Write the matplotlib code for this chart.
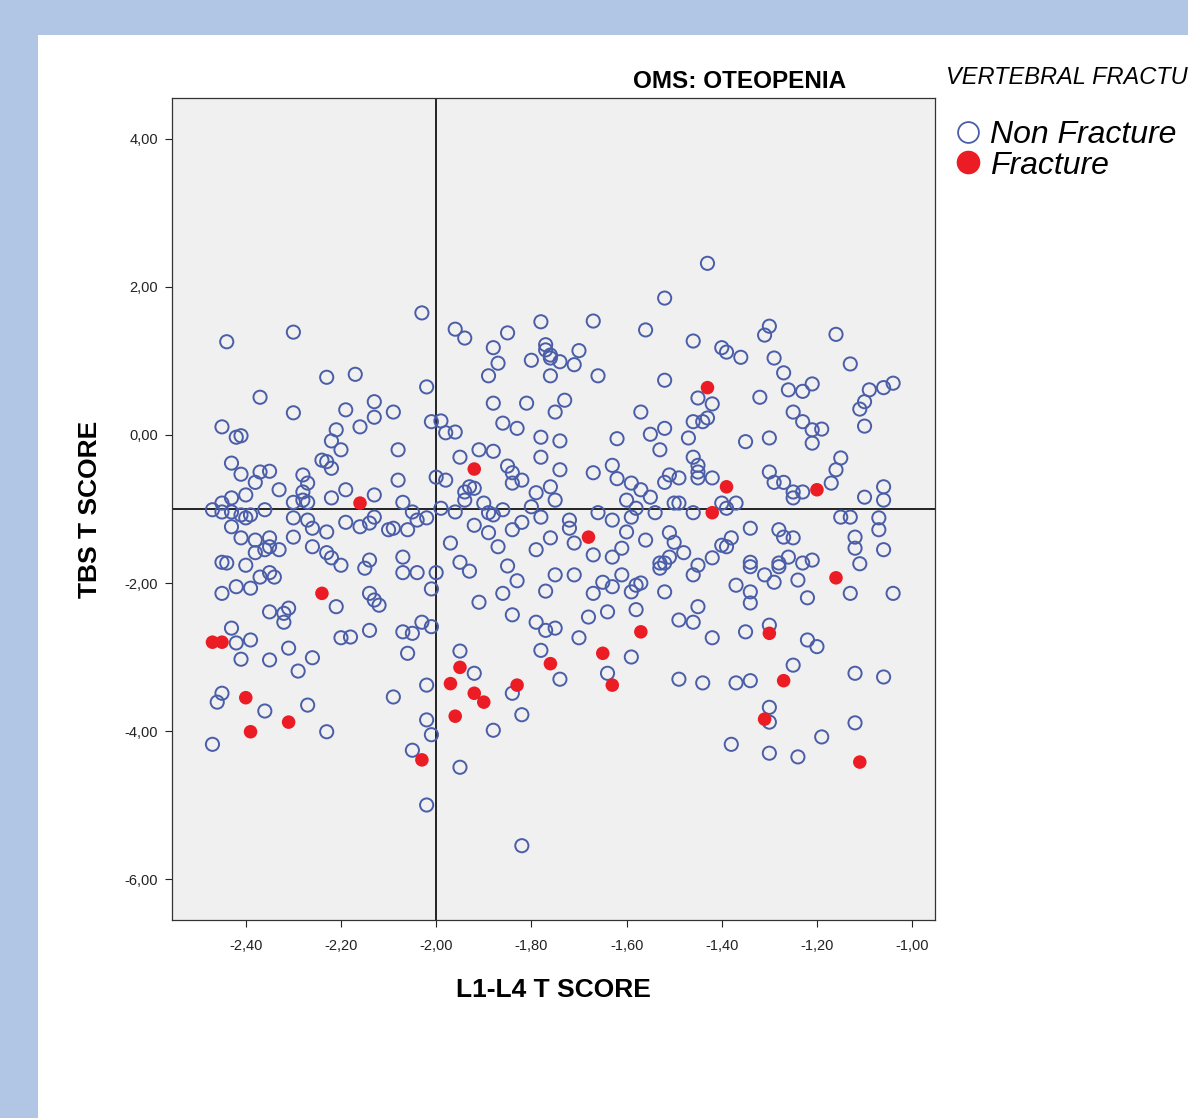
import matplotlib
matplotlib.use('Agg')
import matplotlib.pyplot as plt
from matplotlib.lines import Line2D
from matplotlib.patches import Rectangle

# L1-L4 T score (x) and TBS T score (y), patients without vertebral fracture
non_frac_x = [
    -2.44, -2.30, -2.23, -2.17, -2.37, -2.30, -2.19, -2.13, -2.13, -2.16, -2.21, -2.22, -2.20, -2.45, -2.42, -2.41,
    -2.03, -1.96, -1.94, -1.85, -1.78, -1.77, -1.77, -1.76, -1.76, -1.88, -1.87, -1.89, -1.80, -1.76, -2.02, -1.88,
    -1.81, -1.75, -2.09, -2.01, -1.99, -1.98, -1.96, -1.86, -1.83, -1.78, -1.74, -2.08, -1.91, -1.88,
    -1.43, -1.52, -1.67, -1.56, -1.46, -1.40, -1.39, -1.36, -1.70, -1.74, -1.71, -1.66, -1.52, -1.45, -1.42, -1.46,
    -1.44, -1.43, -1.57, -1.73, -1.52, -1.55, -1.62, -1.47, -1.53,
    -1.30, -1.31, -1.16, -1.29, -1.13, -1.27, -1.32, -1.26, -1.23, -1.21, -1.09, -1.10, -1.11, -1.06, -1.04, -1.10,
    -1.25, -1.23, -1.21, -1.19, -1.21, -1.30, -1.35,
    -2.43, -2.41, -2.38, -2.37, -2.35, -2.28, -2.27, -2.24, -2.23, -2.22, -2.33, -2.28, -2.40, -2.43, -2.45, -2.47,
    -2.45, -2.43, -2.41, -2.40, -2.39, -2.36, -2.30, -2.28, -2.27, -2.30, -2.27, -2.26, -2.23, -2.22, -2.19, -2.13,
    -2.13, -2.19, -2.16, -2.14, -2.43, -2.41, -2.38, -2.35, -2.35, -2.33, -2.36, -2.38, -2.30, -2.26, -2.23, -2.22,
    -2.20, -2.45, -2.44, -2.40, -2.37, -2.35, -2.34, -2.14, -2.15, -2.45, -2.42, -2.39, -2.21, -2.14, -2.13, -2.35,
    -2.32, -2.31, -2.32, -2.43, -2.42, -2.39, -2.31, -2.20, -2.18, -2.14,
    -1.95, -1.85, -1.84, -1.82, -1.84, -1.78, -1.74, -1.76, -2.08, -2.00, -1.98, -1.93, -1.92, -1.94, -1.94, -2.07,
    -2.05, -2.04, -2.02, -2.06, -2.10, -2.09, -1.99, -1.96, -1.90, -1.89, -1.88, -1.86, -1.80, -1.79, -1.75, -1.78,
    -1.92, -1.89, -1.84, -1.82, -1.76, -1.87, -1.97, -1.79, -2.07, -2.07, -2.04, -2.00, -1.95, -1.93, -1.85, -1.83,
    -1.75, -2.01, -1.91, -1.86, -1.77, -2.12, -1.84, -1.79, -1.77, -1.75, -2.03, -2.01, -2.05, -2.07, -1.95, -1.78,
    -1.46, -1.45, -1.45, -1.45, -1.42, -1.63, -1.67, -1.62, -1.59, -1.57, -1.55, -1.52, -1.51, -1.49, -1.60, -1.58,
    -1.59, -1.50, -1.49, -1.54, -1.63, -1.66, -1.46, -1.40, -1.39, -1.37, -1.72, -1.72, -1.71, -1.67, -1.63, -1.60,
    -1.61, -1.56, -1.51, -1.50, -1.48, -1.51, -1.53, -1.53, -1.52, -1.45, -1.46, -1.42, -1.40, -1.39, -1.38, -1.71,
    -1.65, -1.61, -1.67, -1.63, -1.59, -1.58, -1.57, -1.52, -1.37, -1.68, -1.64, -1.58, -1.49, -1.46, -1.45, -1.70,
    -1.42,
    -1.15, -1.16, -1.17, -1.30, -1.29, -1.27, -1.25, -1.25, -1.23, -1.10, -1.06, -1.06, -1.15, -1.13, -1.07, -1.07,
    -1.34, -1.28, -1.27, -1.25, -1.12, -1.12, -1.06, -1.11, -1.34, -1.34, -1.31, -1.28, -1.28, -1.29, -1.26, -1.23,
    -1.21, -1.24, -1.34, -1.34, -1.22, -1.13, -1.04, -1.30, -1.35, -1.22, -1.20,
    -2.41, -2.35, -2.26, -2.29, -2.45, -2.46, -2.36, -2.27, -2.23, -2.47,
    -2.06, -1.92, -2.02, -2.09, -1.84, -1.74, -1.82, -2.02, -2.01, -1.88, -2.05, -1.95, -2.02, -1.82,
    -1.59, -1.64, -1.49, -1.44, -1.37, -1.38,
    -1.25, -1.34, -1.12, -1.06, -1.30, -1.30, -1.12, -1.19, -1.30, -1.24,
]
non_frac_y = [
    1.26, 1.39, 0.78, 0.82, 0.51, 0.30, 0.34, 0.45, 0.24, 0.11, 0.07, -0.08, -0.20, 0.11, -0.03, -0.01,
    1.65, 1.43, 1.31, 1.38, 1.53, 1.22, 1.15, 1.08, 1.04, 1.18, 0.97, 0.80, 1.01, 0.80, 0.65, 0.43,
    0.43, 0.31, 0.31, 0.18, 0.19, 0.03, 0.04, 0.16, 0.09, -0.03, -0.08, -0.20, -0.20, -0.22,
    2.32, 1.85, 1.54, 1.42, 1.27, 1.18, 1.12, 1.05, 1.14, 0.99, 0.95, 0.80, 0.74, 0.50, 0.42, 0.18,
    0.18, 0.23, 0.31, 0.47, 0.09, 0.01, -0.05, -0.04, -0.20,
    1.47, 1.35, 1.36, 1.04, 0.96, 0.84, 0.51, 0.61, 0.59, 0.69, 0.61, 0.45, 0.35, 0.64, 0.70, 0.12,
    0.31, 0.18, 0.07, 0.08, -0.11, -0.04, -0.09,
    -0.38, -0.53, -0.64, -0.50, -0.49, -0.54, -0.65, -0.34, -0.36, -0.45, -0.74, -0.77, -0.81, -0.85, -0.92, -1.01,
    -1.04, -1.04, -1.08, -1.12, -1.08, -1.01, -0.91, -0.88, -0.91, -1.12, -1.15, -1.26, -1.31, -0.85, -0.74, -0.81,
    -1.11, -1.18, -1.24, -1.19, -1.24, -1.39, -1.42, -1.39, -1.51, -1.55, -1.55, -1.59, -1.38, -1.51, -1.59, -1.66,
    -1.76, -1.72, -1.73, -1.76, -1.92, -1.86, -1.92, -1.69, -1.80, -2.14, -2.05, -2.07, -2.32, -2.14, -2.23, -2.39,
    -2.41, -2.34, -2.53, -2.61, -2.81, -2.77, -2.88, -2.74, -2.73, -2.64,
    -0.30, -0.42, -0.51, -0.61, -0.65, -0.30, -0.47, -0.70, -0.61, -0.57, -0.61, -0.70, -0.72, -0.77, -0.88, -0.91,
    -1.04, -1.15, -1.12, -1.28, -1.28, -1.26, -0.99, -1.04, -0.92, -1.05, -1.08, -1.01, -0.97, -0.78, -0.88, -1.11,
    -1.22, -1.32, -1.28, -1.18, -1.39, -1.51, -1.46, -1.55, -1.65, -1.86, -1.86, -1.86, -1.72, -1.84, -1.77, -1.97,
    -1.89, -2.08, -2.26, -2.14, -2.11, -2.30, -2.43, -2.53, -2.64, -2.61, -2.53, -2.59, -2.68, -2.66, -2.92, -2.91,
    -0.30, -0.41, -0.50, -0.58, -0.58, -0.41, -0.51, -0.59, -0.65, -0.74, -0.84, -0.64, -0.54, -0.58, -0.88, -0.99,
    -1.11, -0.92, -0.92, -1.05, -1.15, -1.05, -1.05, -0.92, -0.99, -0.92, -1.15, -1.26, -1.46, -1.62, -1.65, -1.31,
    -1.53, -1.42, -1.32, -1.45, -1.59, -1.65, -1.73, -1.80, -1.73, -1.76, -1.89, -1.66, -1.49, -1.51, -1.39, -1.89,
    -1.99, -1.89, -2.14, -2.05, -2.12, -2.03, -2.00, -2.12, -2.03, -2.46, -2.39, -2.36, -2.50, -2.53, -2.32, -2.74,
    -2.74,
    -0.31, -0.47, -0.65, -0.50, -0.64, -0.64, -0.77, -0.85, -0.77, -0.84, -0.70, -0.88, -1.11, -1.11, -1.12, -1.28,
    -1.26, -1.28, -1.38, -1.39, -1.38, -1.53, -1.55, -1.74, -1.72, -1.78, -1.89, -1.78, -1.73, -1.99, -1.65, -1.73,
    -1.69, -1.96, -2.12, -2.27, -2.20, -2.14, -2.14, -2.57, -2.66, -2.77, -2.86,
    -3.03, -3.04, -3.01, -3.19, -3.49, -3.61, -3.73, -3.65, -4.01, -4.18,
    -2.95, -3.22, -3.38, -3.54, -3.49, -3.30, -3.78, -3.85, -4.05, -3.99, -4.26, -4.49, -5.00, -5.55,
    -3.00, -3.22, -3.30, -3.35, -3.35, -4.18,
    -3.11, -3.32, -3.22, -3.27, -3.68, -3.88, -3.89, -4.08, -4.30, -4.35,
]

# patients with vertebral fracture
frac_x = [-1.43, -2.16, -2.24, -2.47, -2.45, -1.92, -1.39, -1.42, -1.68, -1.57, -1.65, -1.20, -1.16, -1.30,
          -2.40, -2.31, -2.39, -1.95, -1.97, -1.92, -1.90, -1.83, -1.76, -1.96, -2.03, -1.63, -1.27, -1.31, -1.11]
frac_y = [0.64, -0.92, -2.14, -2.80, -2.80, -0.46, -0.70, -1.05, -1.38, -2.66, -2.95, -0.74, -1.93, -2.68,
          -3.55, -3.88, -4.01, -3.14, -3.36, -3.49, -3.61, -3.38, -3.09, -3.80, -4.39, -3.38, -3.32, -3.84, -4.42]

x_ticks = [-2.4, -2.2, -2.0, -1.8, -1.6, -1.4, -1.2, -1.0]
y_ticks = [-6, -4, -2, 0, 2, 4]

blue = '#4a5da8'
red = '#ec1c24'
font = ['Liberation Sans', 'DejaVu Sans']

fig = plt.figure(figsize=(11.88, 11.18), dpi=100)
fig.patch.set_facecolor('#b1c6e4')
# white page inside the blue frame
fig.patches.append(Rectangle((38 / 1188, 0), 1, 1 - 35 / 1118, transform=fig.transFigure,
                             facecolor='white', edgecolor='none', zorder=-1))

ax = fig.add_axes([172 / 1188, 1 - 920 / 1118, 763 / 1188, 822 / 1118])
ax.set_zorder(2)
ax.set_facecolor('#f0f0f0')
ax.set_xlim(-2.555, -0.952)
ax.set_ylim(-6.554, 4.554)

ax.axvline(-2.0, color='black', lw=1.2, zorder=1)
ax.axhline(-1.0, color='black', lw=1.2, zorder=1)

ax.scatter(non_frac_x, non_frac_y, s=90, facecolors='none', edgecolors=blue, linewidths=1.4, zorder=2)
ax.scatter(frac_x, frac_y, s=95, color=red, edgecolors='none', zorder=3)

ax.set_xticks(x_ticks)
ax.set_xticklabels([f'{v:.2f}'.replace('.', ',') for v in x_ticks], fontfamily=font, fontsize=10.5)
ax.set_yticks(y_ticks)
ax.set_yticklabels([f'{v:.2f}'.replace('.', ',') for v in y_ticks], fontfamily=font, fontsize=10.5)
ax.tick_params(direction='out', length=5, width=0.8, colors='#222222')
ax.tick_params(axis='x', pad=9)
ax.tick_params(axis='y', pad=5)
for sp in ax.spines.values():
    sp.set_color('#333333')
    sp.set_linewidth(0.9)

ax.set_xlabel('L1-L4 T SCORE', fontfamily=font, fontsize=19, fontweight='bold', labelpad=18)
ax.set_ylabel('TBS T SCORE', fontfamily=font, fontsize=19, fontweight='bold', labelpad=16)

fig.text(740 / 1188, 1 - 81 / 1118, 'OMS: OTEOPENIA', ha='center', va='center', fontsize=17.5,
         fontweight='bold', family=font)
fig.text(946 / 1188, 1 - 78 / 1118, 'VERTEBRAL FRACTURE', ha='left', va='center', fontsize=17,
         style='italic', family=font)

handles = [Line2D([], [], marker='o', ls='none', markersize=15, markerfacecolor='none',
                  markeredgecolor=blue, markeredgewidth=1.3, label='Non Fracture'),
           Line2D([], [], marker='o', ls='none', markersize=16, markerfacecolor=red,
                  markeredgecolor=red, label='Fracture')]
fig.legend(handles=handles, loc='upper left', bbox_to_anchor=(936 / 1188, 1 - 104 / 1118),
           frameon=False, prop={'family': font, 'style': 'italic', 'size': 23},
           handletextpad=0.2, labelspacing=0.02, borderpad=0, handlelength=1.0)

fig.savefig('out.png', dpi=100)
